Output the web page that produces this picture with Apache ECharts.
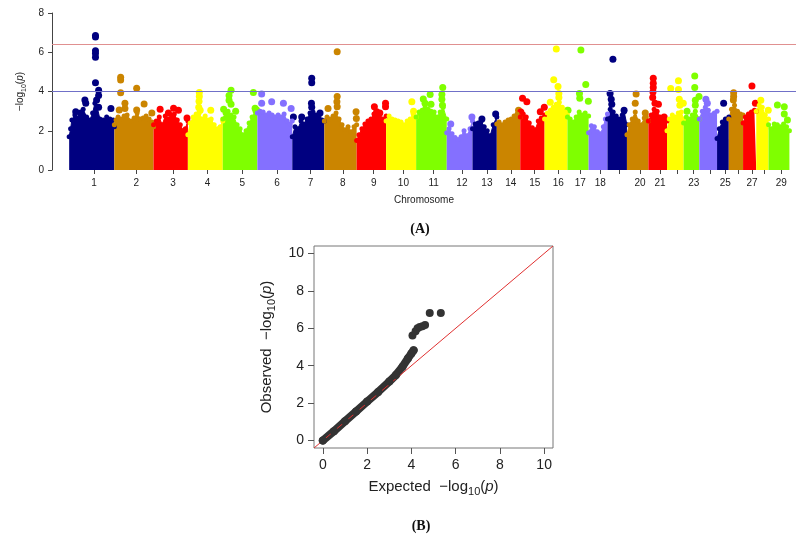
<!DOCTYPE html>
<html>
<head>
<meta charset="utf-8">
<script src="https://cdn.jsdelivr.net/npm/echarts@6/dist/echarts.min.js"></script>
<style>
html, body { margin: 0; padding: 0; background: #fff; }
#main { width: 796px; height: 537px; }
</style>
</head>
<body>
<div id="main"></div>
<script>
var chrNames = ['1','2','3','4','5','6','7','8','9','10','11','12','13','14','15',
    '16','17','18','19','20','21','22','23','24','25','26','27','28','29'];
var chrLen = [158,137,120,122,121,122,112,113,103,105,107,90,85,82,85,80,74,66,68,75,65,58,55,62,41,50,46,43,73];
var labelled = ['1','2','3','4','5','6','7','8','9','10','11','12','13','14','15','16','17','18','20','21','23','25','27','29'];
var chrColors = ['#000080', '#CB8500', '#FF0000', '#FFFF00', '#7FFF00', '#8470FF'];

// top of the dense cloud per chromosome: [position in chromosome, -log10(p)]
var chrTop = [
    [[0,1.7],[5,2.1],[9.5,2.55],[20,2.8],[37.5,2.7],[49,3.1],[61,2.7],[72.5,2.55],[82,2.9],[90,3.4],[98,3.2],[107.5,2.6],[119,2.55],[131,2.7],[142.5,2.6],[154,2.55],[158,2.2]],
    [[0,2.3],[6,2.55],[13,2.7],[23.5,2.6],[34,2.75],[44.5,2.8],[58.5,2.5],[69,2.65],[79.5,2.9],[90,2.6],[100.5,2.65],[111,2.75],[121.5,2.6],[131.5,2.45],[137,2.2]],
    [[0,2.3],[9.5,2.5],[20,2.7],[30,2.3],[41,2.75],[51.5,2.6],[62,2.8],[72.5,2.85],[83,2.55],[93.5,2.3],[104,2.0],[111,2.1],[120,2.5]],
    [[0,1.8],[8,2.4],[18.5,2.7],[29,2.85],[39.5,2.9],[50,2.6],[60.5,2.75],[71,2.55],[81.5,2.6],[92,2.3],[102.5,2.1],[113,2.2],[122,2.5]],
    [[0,2.6],[8,2.9],[18.5,3.0],[29,2.8],[39.5,2.7],[50,2.3],[60.5,2.1],[71,1.8],[81.5,2.0],[92,2.4],[102.5,2.7],[113,3.0],[121,3.1]],
    [[0,2.9],[9.5,3.0],[20,2.95],[30,2.8],[41,2.9],[51.5,2.8],[62,2.7],[72.5,2.8],[83,2.7],[93.5,2.85],[104,2.5],[114.5,2.35],[122,2.5]],
    [[0,1.7],[9.5,2.2],[20,2.1],[30.5,2.5],[41,2.35],[51.5,2.6],[62,2.9],[72.5,2.95],[83,2.8],[93.5,2.7],[104,2.55],[112,2.5]],
    [[0,2.5],[9.5,2.7],[20,2.6],[30.5,2.75],[41,2.9],[51.5,2.6],[62,2.3],[72.5,2.05],[83,2.2],[93.5,1.95],[104,2.2],[113,2.3]],
    [[0,1.5],[8,1.8],[18.5,2.1],[29,2.35],[39.5,2.5],[50,2.6],[60.5,2.85],[71,2.8],[81.5,2.65],[92,2.6],[103,2.75]],
    [[0,2.5],[10.5,2.75],[21,2.6],[31.5,2.55],[42,2.5],[52.5,2.45],[63,2.3],[73.5,2.5],[84,2.6],[94.5,2.85],[105,2.7]],
    [[0,2.7],[10.5,2.95],[21,3.05],[31.5,3.2],[42,3.1],[52.5,3.0],[63,2.95],[73.5,2.7],[84,2.95],[94.5,3.2],[107,2.6]],
    [[0,1.9],[8,2.1],[18.5,1.85],[29,1.65],[39.5,1.55],[50,1.7],[60.5,2.0],[71,1.75],[81.5,2.1],[90,2.5]],
    [[0,2.1],[9.5,2.35],[20,2.4],[30.5,2.5],[41,2.2],[51.5,2.0],[62,1.75],[72.5,2.3],[85,2.7]],
    [[0,2.35],[8,2.45],[18.5,2.3],[29,2.45],[39.5,2.55],[50,2.6],[60.5,2.75],[71,2.85],[82,2.7]],
    [[0,2.7],[10.5,2.85],[21,2.7],[31.5,2.4],[42,2.15],[52.5,2.05],[63,2.5],[73.5,2.65],[85,2.8]],
    [[0,2.6],[9.5,2.9],[20,3.05],[30.5,3.2],[41,3.35],[51.5,3.45],[62,3.2],[72.5,2.95],[80,2.8]],
    [[0,2.7],[9.5,2.6],[20,2.45],[30.5,2.7],[41,2.95],[51.5,2.8],[62,2.9],[74,2.75]],
    [[0,1.9],[9.5,2.25],[20,2.2],[30.5,1.95],[41,1.85],[51.5,2.2],[58.5,2.6],[66,2.85]],
    [[0,2.6],[9.5,3.1],[20,2.95],[30.5,2.75],[41,2.6],[51.5,2.8],[58.5,2.95],[68,2.3]],
    [[0,1.8],[8,2.3],[18.5,2.6],[29,2.95],[39.5,2.5],[50,2.3],[60.5,2.65],[67.5,2.7],[75,2.5]],
    [[0,2.5],[9.5,2.8],[20,3.1],[30.5,3.0],[41,2.7],[51.5,2.55],[65,2.5]],
    [[0,2.0],[8,2.6],[18.5,2.8],[29,2.7],[39.5,2.9],[50,2.95],[58,2.6]],
    [[0,2.4],[9.5,2.7],[20,2.6],[30.5,2.8],[41,3.0],[55,2.6]],
    [[0,2.6],[10.5,3.0],[21,3.2],[31.5,3.05],[42,2.8],[52.5,2.9],[62,3.0]],
    [[0,1.6],[8,2.1],[18.5,2.45],[29,2.6],[41,2.7]],
    [[0,2.6],[9.5,3.1],[20,3.3],[30.5,3.0],[41,2.85],[50,2.8]],
    [[0,2.4],[8,2.7],[18.5,2.85],[29,2.95],[39.5,3.05],[46,3.0]],
    [[0,3.0],[10.5,3.3],[21,3.2],[31.5,2.8],[43,2.6]],
    [[0,2.3],[9.5,2.1],[20,2.35],[30.5,2.3],[41,2.2],[52.5,2.35],[63,2.2],[73,2.0]]
];

// single SNPs standing above the cloud
var chrHits = [
    [[92,6.85],[92,6.78],[92,6.08],[92,5.94],[92,5.74],[92,4.45],[103,4.07],[103,3.8],[96,3.57],[103,3.2],[55,3.57],[58,3.4],[23,2.97],[41,2.9],[146,3.14]],
    [[22,4.72],[22,4.58],[22,3.94],[78,4.16],[78,3.06],[37,3.4],[37,3.14],[104,3.36],[17,3.06],[131,2.9]],
    [[23,3.1],[52,2.9],[70,3.15],[87,3.05],[117,2.65]],
    [[40,3.95],[40,3.75],[39,3.5],[38,3.2],[43,3.05],[80,3.05]],
    [[29,4.07],[22,3.8],[22,3.55],[29,3.35],[45,3.0],[107,3.95],[113,3.15],[3,3.1]],
    [[15,3.87],[15,3.4],[50,3.48],[91,3.4],[118,3.14]],
    [[68,4.67],[68,4.45],[67,3.4],[68,3.2],[4,2.7],[33,2.7],[97,2.9]],
    [[45,6.03],[45,3.74],[44,3.48],[45,3.22],[13,3.14],[111,2.97],[112,2.63]],
    [[62,3.22],[70,2.97],[81,2.9],[101,3.4],[101,3.22]],
    [[90,3.48],[96,3.0]],
    [[93,4.21],[90,3.85],[90,3.6],[92,3.3],[49,3.85],[25,3.62],[31,3.4],[52,3.35]],
    [[14,2.35],[88,2.7]],
    [[33,2.6],[81,2.85]],
    [[76,3.05]],
    [[8,3.65],[23,3.48],[2,2.95],[70,2.97],[84,3.2]],
    [[41,6.16],[32,4.6],[47,4.25],[50,3.9],[50,3.7],[20,3.45],[79,3.05]],
    [[47,6.11],[64,4.36],[42,3.9],[43,3.65],[73,3.5],[2,3.05]],
    [],
    [[19,5.64],[9,3.9],[13,3.6],[15,3.35],[58,3.05]],
    [[32,3.87],[29,3.4],[64,2.9]],
    [[17,4.67],[17,4.42],[17,4.2],[16,3.98],[15,3.7],[23,3.4],[35,3.35],[55,2.7]],
    [[13,4.15],[40,4.55],[40,4.1],[43,3.6],[45,3.3],[57,3.4]],
    [[39,4.79],[39,4.2],[54,3.75],[41,3.55],[41,3.3],[12,3.0]],
    [[23,3.6],[28,3.4]],
    [[23,3.4]],
    [[17,3.94],[17,3.75],[16,3.57]],
    [[31,4.28],[43,3.4]],
    [[16,3.55],[42,3.05]],
    [[31,3.31],[55,3.22],[55,2.85],[66,2.55]]
];

var suggestiveLine = 4;
var genomewideLine = 6.41;

// QQ plot
var qqExpected = [0, 0.5, 1, 1.5, 2, 2.5, 3, 3.3, 3.6, 3.85, 4.0, 4.1];
var qqObserved = [0, 0.5, 1.03, 1.55, 2.08, 2.6, 3.15, 3.5, 3.95, 4.4, 4.65, 4.82];
var qqTailExpected = [4.05, 4.19, 4.28, 4.38, 4.5, 4.62, 4.83, 5.33];
var qqTailObserved = [5.61, 5.84, 6.0, 6.07, 6.11, 6.18, 6.82, 6.82];
var qqTicks = [0, 2, 4, 6, 8, 10];

var myChart = echarts.init(document.getElementById('main'));

var chrStart = [];
var total = 0;
for (var i = 0; i < chrLen.length; i++) {
    chrStart.push(total);
    total += chrLen[i];
}
var tickShift = 8;  // R puts the tick at the data centre, the colour block looks a bit left of it
var chrTick = chrStart.map(function (s, i) { return s + chrLen[i] / 2 + tickShift; });
var labelTicks = chrTick.filter(function (t, i) { return labelled.indexOf(chrNames[i]) >= 0; });

function tickName(v) {
    var best = 0;
    for (var k = 1; k < chrTick.length; k++) {
        if (Math.abs(chrTick[k] - v) < Math.abs(chrTick[best] - v)) best = k;
    }
    return chrNames[best];
}

var font = 'Liberation Sans';
var logRich = function (size) {
    return {
        n: { fontFamily: font, fontSize: size, color: '#222', lineHeight: size + 5 },
        s: { fontFamily: font, fontSize: Math.round(size * 0.72), color: '#222', verticalAlign: 'bottom', lineHeight: size * 0.72 },
        i: { fontFamily: font, fontSize: size, color: '#222', fontStyle: 'italic', lineHeight: size + 5 }
    };
};

var series = [];
chrLen.forEach(function (len, i) {
    var color = chrColors[i % chrColors.length];
    series.push({
        type: 'line',
        xAxisIndex: 0,
        yAxisIndex: 0,
        data: chrTop[i].map(function (p) { return [chrStart[i] + p[0], p[1]]; }),
        symbol: 'circle',
        symbolSize: 5,
        showSymbol: true,
        lineStyle: { color: color, width: 1 },
        itemStyle: { color: color },
        areaStyle: { color: color, opacity: 1 },
        silent: true,
    });
    series.push({
        type: 'scatter',
        xAxisIndex: 0,
        yAxisIndex: 0,
        data: chrHits[i].map(function (p) { return [chrStart[i] + p[0], p[1]]; }),
        symbolSize: 7,
        itemStyle: { color: color, opacity: 1 },
        silent: true,
    });
});

// threshold lines on top of the points
series[series.length - 1].markLine = {
    silent: true,
    symbol: ['none', 'none'],
    label: { show: false },
    lineStyle: { width: 1, type: 'solid' },
    data: [
        { yAxis: genomewideLine, lineStyle: { color: '#e09090' } },
        { yAxis: suggestiveLine, lineStyle: { color: '#7070c8' } },
    ],
};

series.push({
    type: 'line',
    xAxisIndex: 1,
    yAxisIndex: 1,
    data: qqExpected.map(function (x, i) { return [x, qqObserved[i]]; }),
    symbol: 'circle',
    symbolSize: 8,
    lineStyle: { color: '#333', width: 8, cap: 'round', join: 'round' },
    itemStyle: { color: '#333' },
    silent: true,
});
series.push({
    type: 'scatter',
    xAxisIndex: 1,
    yAxisIndex: 1,
    data: qqTailExpected.map(function (x, i) { return [x, qqTailObserved[i]]; }),
    symbolSize: 8,
    itemStyle: { color: '#333', opacity: 1 },
    silent: true,
});
// y = x reference
series.push({
    type: 'line',
    xAxisIndex: 1,
    yAxisIndex: 1,
    data: [[-0.4, -0.4], [10.4, 10.4]],
    symbol: 'none',
    lineStyle: { color: '#e03030', width: 1 },
    silent: true,
});

var option = {
    animation: false,
    backgroundColor: '#fff',
    grid: [{
        left: 52,
        right: 0,
        top: 13,
        bottom: 367,
    }, {
        left: 314,
        right: 243,
        top: 246,
        bottom: 89,
        show: true,
        borderColor: '#777',
        borderWidth: 1,
    }],
    xAxis: [{
        gridIndex: 0,
        type: 'value',
        min: -60,
        max: 2541,
        name: 'Chromosome',
        nameLocation: 'middle',
        nameGap: 25,
        nameTextStyle: { fontFamily: font, fontSize: 10, color: '#222' },
        axisLine: { show: false, onZero: false },
        axisTick: { show: true, length: 4, customValues: chrTick, lineStyle: { color: '#444' } },
        axisLabel: {
            customValues: labelTicks,
            margin: 8,
            fontFamily: font,
            fontSize: 10,
            color: '#222',
            formatter: tickName,
        },
        splitLine: { show: false },
    }, {
        gridIndex: 1,
        type: 'value',
        min: -0.4,
        max: 10.4,
        name: 'Expected  {n|−log}{s|10}{n|(}{i|p}{n|)}',
        nameLocation: 'middle',
        nameGap: 29,
        nameTextStyle: { fontFamily: font, fontSize: 15, color: '#222', rich: logRich(15) },
        axisLine: { show: false, onZero: false },
        axisTick: { show: true, length: 6, customValues: qqTicks, lineStyle: { color: '#555' } },
        axisLabel: { customValues: qqTicks, margin: 10, fontFamily: font, fontSize: 14, color: '#222' },
        splitLine: { show: false },
    }],
    yAxis: [{
        gridIndex: 0,
        type: 'value',
        min: 0,
        max: 8,
        interval: 2,
        name: '{n|−log}{s|10}{n|(}{i|p}{n|)}',
        nameLocation: 'middle',
        nameGap: 24,
        nameTextStyle: { fontFamily: font, fontSize: 10, color: '#222', rich: logRich(10) },
        axisLine: { show: true, onZero: false, lineStyle: { color: '#444' } },
        axisTick: { show: true, length: 4, lineStyle: { color: '#444' } },
        axisLabel: { margin: 8, fontFamily: font, fontSize: 10, color: '#222' },
        splitLine: { show: false },
    }, {
        gridIndex: 1,
        type: 'value',
        min: -0.4,
        max: 10.4,
        name: 'Observed  {n|−log}{s|10}{n|(}{i|p}{n|)}',
        nameLocation: 'middle',
        nameGap: 37,
        nameTextStyle: { fontFamily: font, fontSize: 15, color: '#222', rich: logRich(15) },
        axisLine: { show: false, onZero: false },
        axisTick: { show: true, length: 6, customValues: qqTicks, lineStyle: { color: '#555' } },
        axisLabel: { customValues: qqTicks, margin: 10, fontFamily: font, fontSize: 14, color: '#222' },
        splitLine: { show: false },
    }],
    graphic: [{
        type: 'text',
        x: 420,
        y: 229,
        style: { text: '(A)', font: 'bold 14px "Liberation Serif"', fill: '#111', textAlign: 'center', textVerticalAlign: 'middle' },
    }, {
        type: 'text',
        x: 421,
        y: 526,
        style: { text: '(B)', font: 'bold 14px "Liberation Serif"', fill: '#111', textAlign: 'center', textVerticalAlign: 'middle' },
    }],
    series: series,
};

myChart.setOption(option);
</script>
</body>
</html>
